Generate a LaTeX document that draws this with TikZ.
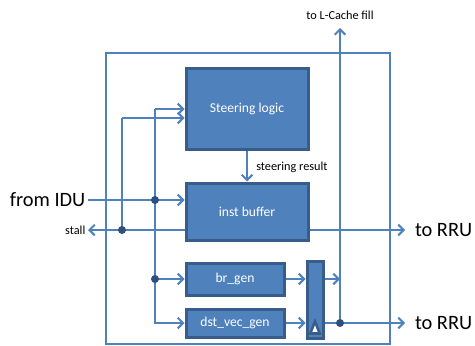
\documentclass[tikz,border=0pt]{standalone}
\usepackage{fontspec}
\setmainfont{Carlito}
\usetikzlibrary{arrows.meta}
\definecolor{blk}{HTML}{4F81BD}
\definecolor{edge}{HTML}{385D8A}
\definecolor{dotc}{HTML}{2F4F7C}
\begin{document}
\begin{tikzpicture}[x=0.75pt,y=-0.75pt,
  wire/.style={draw=blk,line width=1.5pt},
  arr/.style={wire,-{Straight Barb[length=4pt,width=8pt]}},
  unit/.style={draw=edge,fill=blk,line width=2.25pt,text=white,
    font=\fontsize{10.2}{12}\selectfont,inner sep=0pt},
  jdot/.style={circle,fill=dotc,inner sep=0pt,minimum size=6pt},
  biglbl/.style={font=\fontsize{15.3}{18}\selectfont,inner sep=0pt},
  smalllbl/.style={font=\fontsize{9.2}{11}\selectfont,inner sep=0pt}]
\useasboundingbox (0,0) rectangle (475,346);

% enclosing block
\node[draw=blk,line width=1.5pt,minimum width=213pt,minimum height=218.25pt,inner sep=0pt] (core) at (248,198.5) {};

% functional units
\node[unit,minimum width=91.5pt,minimum height=60pt] (steer) at (247,109) {Steering logic};
\node[unit,minimum width=91.5pt,minimum height=42.75pt] (inst) at (247,211.5) {inst buffer};
\node[unit,minimum width=73.5pt,minimum height=24pt] (br) at (235,279) {br\_gen};
\node[unit,minimum width=73.5pt,minimum height=21pt] (dst) at (235,323) {dst\_vec\_gen};
\node[unit,minimum width=12pt,minimum height=57.75pt] (mux) at (315,299.5) {};
% clock marker at the foot of the register
\draw[draw=edge,fill=white,line width=1.9pt,line join=miter] (315,321.5) -- (310.3,333.5) -- (319.7,333.5) -- cycle;

% external labels
\node[biglbl,anchor=east,outer sep=2pt] (idu) at (88,200) {from IDU};
\node[smalllbl,anchor=east,outer sep=2pt] (stall) at (88,230) {stall};
\node[biglbl,anchor=west,outer sep=7.5pt] (rru1) at (405,230) {to RRU};
\node[biglbl,anchor=west,outer sep=7.5pt] (rru2) at (405,323) {to RRU};
\node[smalllbl,anchor=south,outer sep=6pt] (cache) at (340,28) {to L-Cache fill};
\node[smalllbl,anchor=west] (sres) at (256,167) {steering result};

% junctions
\coordinate (j1) at (155,200);
\coordinate (j2) at (122,230);
\coordinate (j3) at (155,279);
\coordinate (j4) at (340,323);
\coordinate (t1) at (155,109);
\coordinate (t2) at (122,118);
\coordinate (m1) at (340,279);

% inputs from IDU
\draw[arr] (idu.east) -- (inst.west |- j1);
\draw[wire] (t1) -- (j3);
\draw[arr] (t1) -- (t1 -| steer.west);
\draw[arr] (j3) -- (br.west);
\draw[arr] (j3) |- (dst.west);

% stall
\draw[arr] (inst.west |- j2) -- (stall.east);
\draw[wire] (j2) -- (t2);
\draw[arr] (t2) -- (t2 -| steer.west);

% steering result
\draw[arr] (steer.south) -- (inst.north);

% outputs
\draw[arr] (inst.east |- j2) -- (rru1.west);
\draw[arr] (br.east) -- (mux.west |- br.east);
\draw[arr] (dst.east) -- (mux.west |- dst.east);
\draw[arr] (mux.east |- m1) -- (m1);
\draw[arr] (mux.east |- j4) -- (rru2.west);
\draw[arr] (j4) -- (cache.south);

\foreach \p in {j1,j2,j3,j4} \node[jdot] at (\p) {};
\end{tikzpicture}
\end{document}
